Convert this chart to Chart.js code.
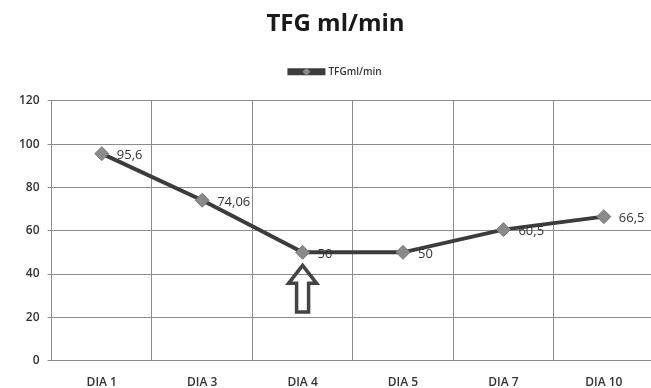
<!DOCTYPE html>
<html lang="pt">
<head>
  <meta charset="UTF-8">
  <title>TFG ml/min</title>
  <script src="https://cdn.jsdelivr.net/npm/chart.js"></script>
  <style>
    html, body { margin: 0; padding: 0; background: #fff; overflow: hidden; }
    #wrap { width: 662px; height: 405px; }
  </style>
</head>
<body>
  <div id="wrap"><canvas id="tfgChart"></canvas></div>

  <script>
    // dados
    const dias = ['DIA 1', 'DIA 3', 'DIA 4', 'DIA 5', 'DIA 7', 'DIA 10'];
    const tfgValores = [95.6, 74.06, 50, 50, 60.5, 66.5];
    const yTicks = [0, 20, 40, 60, 80, 100, 120];
    const diaSeta = 'DIA 4'; // seta abaixo deste ponto

    // rótulos de valor à direita de cada ponto
    const rotulosPlugin = {
      id: 'rotulos',
      afterDatasetsDraw(chart) {
        const ctx = chart.ctx;
        const meta = chart.getDatasetMeta(0);
        ctx.save();
        ctx.font = '13px "Open Sans"';
        ctx.fillStyle = '#333';
        ctx.textBaseline = 'middle';
        meta.data.forEach((pt, i) => {
          const txt = String(tfgValores[i]).replace('.', ',');
          ctx.fillText(txt, pt.x + 15, pt.y + 2);
        });
        ctx.restore();
      }
    };

    // seta para cima no DIA 4
    const setaPlugin = {
      id: 'seta',
      afterDatasetsDraw(chart) {
        const ctx = chart.ctx;
        const x = chart.scales.x.getPixelForValue(dias.indexOf(diaSeta));
        const yTop = chart.scales.y.getPixelForValue(44);
        const yBot = chart.scales.y.getPixelForValue(22.5);
        const headH = 18, headW = 14, shaftW = 6;
        ctx.save();
        ctx.strokeStyle = '#444';
        ctx.lineWidth = 3.5;
        ctx.lineJoin = 'miter';
        ctx.beginPath();
        ctx.moveTo(x, yTop);
        ctx.lineTo(x + headW, yTop + headH);
        ctx.lineTo(x + shaftW, yTop + headH);
        ctx.lineTo(x + shaftW, yBot);
        ctx.lineTo(x - shaftW, yBot);
        ctx.lineTo(x - shaftW, yTop + headH);
        ctx.lineTo(x - headW, yTop + headH);
        ctx.closePath();
        ctx.stroke();
        ctx.restore();
      }
    };

    // legenda: mais espaço abaixo + losango sobre a linha
    const legendaPlugin = {
      id: 'legendaLosango',
      beforeInit(chart) {
        const fitOrig = chart.legend.fit;
        chart.legend.fit = function () {
          fitOrig.bind(this)();
          this.height += 14;
        };
      },
      afterDraw(chart) {
        const box = chart.legend.legendHitBoxes[0];
        if (!box) return;
        const ctx = chart.ctx;
        const cx = box.left + 17, cy = box.top + box.height / 2;
        ctx.save();
        ctx.fillStyle = '#8a8a8a';
        ctx.beginPath();
        ctx.moveTo(cx, cy - 4);
        ctx.lineTo(cx + 4, cy);
        ctx.lineTo(cx, cy + 4);
        ctx.lineTo(cx - 4, cy);
        ctx.closePath();
        ctx.fill();
        ctx.restore();
      }
    };

    new Chart(document.getElementById('tfgChart'), {
      type: 'line',
      data: {
        labels: dias,
        datasets: [{
          label: 'TFGml/min',
          data: tfgValores,
          borderColor: '#3c3c3c',
          backgroundColor: '#3c3c3c',
          borderWidth: 4,
          pointStyle: 'rectRot',
          pointRadius: 7,
          pointBackgroundColor: '#8a8a8a',
          pointBorderColor: '#7a7a7a',
          pointBorderWidth: 1,
          tension: 0
        }]
      },
      options: {
        responsive: true,
        maintainAspectRatio: false,
        animation: false,
        layout: { padding: { left: 11, right: 2, top: 0, bottom: 0 } },
        plugins: {
          title: {
            display: true,
            text: 'TFG ml/min',
            color: '#1a1a1a',
            font: { family: 'Open Sans', size: 24, weight: 'bold' },
            padding: { top: 10, bottom: 20 }
          },
          legend: {
            display: true,
            labels: {
              boxWidth: 34,
              boxHeight: 3,
              color: '#333',
              font: { family: 'Open Sans', size: 10, weight: '600' },
              padding: 8
            }
          },
          tooltip: { enabled: false }
        },
        scales: {
          x: {
            offset: true,
            grid: { color: '#8c8c8c', lineWidth: 1, drawTicks: false, offset: true },
            border: { color: '#8c8c8c' },
            ticks: {
              color: '#333',
              font: { family: 'Open Sans', size: 12, weight: '600' },
              padding: 15,
              maxRotation: 0
            }
          },
          y: {
            min: 0,
            max: 120,
            afterBuildTicks(scale) {
              scale.ticks = yTicks.map(v => ({ value: v }));
            },
            grid: { color: '#8c8c8c', lineWidth: 1, tickLength: 4 },
            border: { color: '#8c8c8c' },
            ticks: {
              color: '#333',
              font: { family: 'Open Sans', size: 12, weight: '600' },
              padding: 8
            }
          }
        }
      },
      plugins: [rotulosPlugin, setaPlugin, legendaPlugin]
    });
  </script>
</body>
</html>
